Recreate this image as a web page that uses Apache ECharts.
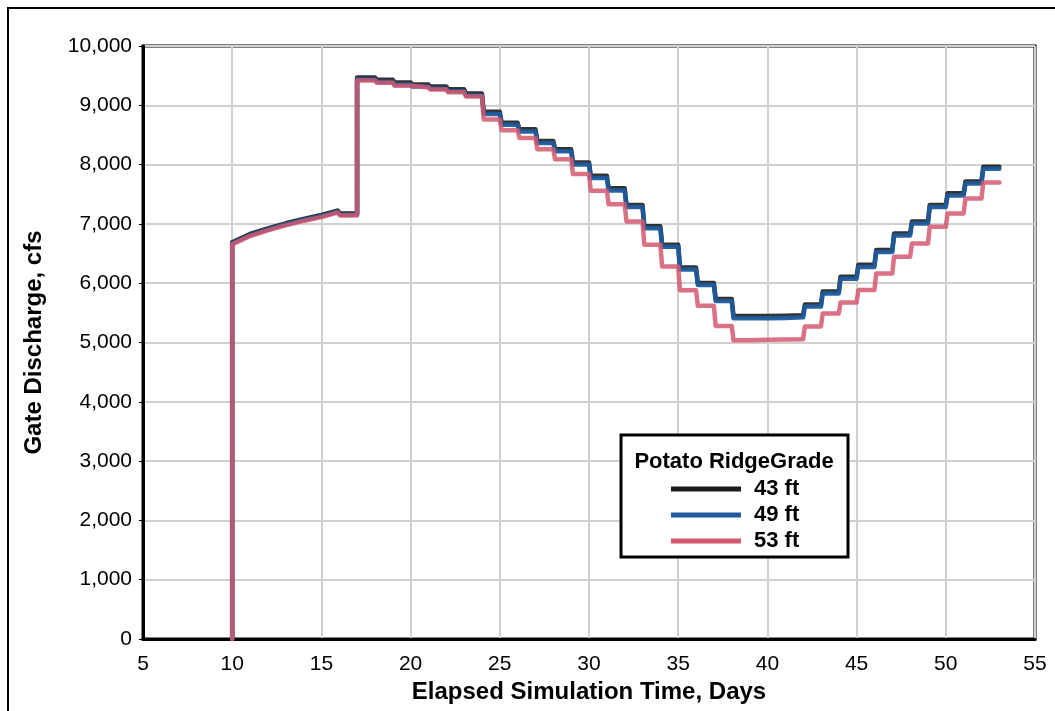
<!DOCTYPE html>
<html>
<head>
<meta charset="utf-8">
<script src="https://cdn.jsdelivr.net/npm/echarts@6/dist/echarts.min.js"></script>
<style>
  html, body { margin: 0; padding: 0; background: #fff; }
  #chart { width: 1055px; height: 711px; }
</style>
</head>
<body>
<div id="chart"></div>
<script>
// Gate discharge (cfs) vs elapsed simulation time (days) for three grade settings.

const seriesNames = ['43 ft', '49 ft', '53 ft'];
const legendTitle = 'Potato RidgeGrade';

// Opening ramp: gate opens at day 10, discharge creeps up until day 17.
const rampDays = [10, 10, 11, 12, 13, 14, 15, 15.9, 16.05];
const ramp43 = [0, 6690, 6830, 6925, 7010, 7085, 7150, 7225, 7175];
const ramp49 = [0, 6670, 6810, 6905, 6990, 7065, 7130, 7205, 7155];
const ramp53 = [0, 6655, 6795, 6890, 6975, 7050, 7115, 7190, 7140];

// Daily operating levels; each value holds from its day until the next day.
const stepDays = [17, 18, 19, 20, 21, 22, 23, 24, 25, 26, 27, 28, 29, 30, 31, 32, 33, 34,
                  35, 36, 37, 38, 39, 40, 41, 42, 43, 44, 45, 46, 47, 48, 49, 50, 51, 52];
const level43 = [9470, 9430, 9385, 9350, 9315, 9270, 9200, 8890, 8705, 8595, 8400, 8260,
                 8035, 7810, 7600, 7320, 6960, 6650, 6265, 6005, 5735, 5445, 5445, 5450,
                 5460, 5640, 5860, 6110, 6310, 6560, 6840, 7040, 7320, 7515, 7715, 7965];
const level49 = [9435, 9395, 9350, 9315, 9280, 9235, 9165, 8855, 8670, 8560, 8365, 8225,
                 8000, 7775, 7565, 7285, 6925, 6615, 6230, 5970, 5700, 5410, 5410, 5415,
                 5425, 5605, 5825, 6075, 6275, 6525, 6805, 7005, 7285, 7480, 7680, 7930];
const level53 = [9420, 9380, 9330, 9300, 9265, 9220, 9150, 8760, 8580, 8450, 8260, 8090,
                 7840, 7560, 7330, 7040, 6650, 6280, 5880, 5620, 5280, 5040, 5045, 5050,
                 5055, 5270, 5490, 5675, 5885, 6165, 6445, 6670, 6950, 7175, 7430, 7700];
const endDay = 53;

const xTicks = { min: 5, max: 55, interval: 5 };
const yTicks = { min: 0, max: 10000, interval: 1000 };

// Gate changes are not instantaneous: the new level is reached shortly after the change.
const settleTime = 0.1;

function buildPath(ramp, levels) {
  const pts = rampDays.map((d, i) => [d, ramp[i]]);
  stepDays.forEach((d, i) => {
    const prev = pts[pts.length - 1][1];
    pts.push([d, prev]);
    pts.push([d + (i === 0 ? 0 : settleTime), levels[i]]);
  });
  pts.push([endDay, levels[levels.length - 1]]);
  return pts;
}

const colors = ['#1c1c1c', '#1f5b9c', '#d4586e'];
const font = '"Liberation Sans", Arial, sans-serif';

const chart = echarts.init(document.getElementById('chart'), null, { renderer: 'canvas' });

function lineSeries(name, data, color, z, opacity) {
  return {
    name: name,
    type: 'line',
    data: data,
    showSymbol: false,
    symbol: 'none',
    z: z,
    color: color,
    lineStyle: { color: color, width: 4.5, opacity: opacity, join: 'round', cap: 'round' },
    animation: false
  };
}

chart.setOption({
  backgroundColor: '#ffffff',
  animation: false,
  grid: { left: 143, right: 20, top: 46, bottom: 72, show: true, borderColor: '#000', borderWidth: 3, backgroundColor: 'transparent' },
  xAxis: {
    type: 'value',
    min: xTicks.min, max: xTicks.max, interval: xTicks.interval,
    name: 'Elapsed Simulation Time, Days',
    nameLocation: 'middle',
    nameGap: 41,
    nameTextStyle: { fontFamily: font, fontSize: 24, fontWeight: 'bold', color: '#000' },
    axisLine: { show: true, lineStyle: { color: '#000', width: 3 } },
    axisTick: { show: false },
    axisLabel: { fontFamily: font, fontSize: 21, color: '#000', margin: 15 },
    splitLine: { show: true, lineStyle: { color: '#d0d0d0', width: 2 } }
  },
  yAxis: {
    type: 'value',
    min: yTicks.min, max: yTicks.max, interval: yTicks.interval,
    name: 'Gate Discharge, cfs',
    nameLocation: 'middle',
    nameGap: 97,
    nameTextStyle: { fontFamily: font, fontSize: 24, fontWeight: 'bold', color: '#000' },
    axisLine: { show: true, lineStyle: { color: '#000', width: 3 } },
    axisTick: { show: true, length: 4, inside: false, lineStyle: { color: '#000', width: 1 } },
    axisLabel: {
      fontFamily: font, fontSize: 21, color: '#000', margin: 11,
      formatter: v => v.toLocaleString('en-US')
    },
    splitLine: { show: true, lineStyle: { color: '#d0d0d0', width: 2 } }
  },
  legend: {
    orient: 'vertical',
    left: 671,
    top: 476,
    data: seriesNames,
    icon: 'rect',
    itemWidth: 70,
    itemHeight: 5,
    itemGap: 0,
    padding: 0,
    z: 6,
    textStyle: { fontFamily: font, fontSize: 22, fontWeight: 'bold', color: '#000', lineHeight: 26, padding: [0, 0, 0, 8] },
    selectedMode: false
  },
  graphic: [
    {
      type: 'rect', z: 5, silent: true,
      shape: { x: 8, y: 8, width: 1200, height: 900 },
      style: { fill: 'none', stroke: '#000', lineWidth: 2 }
    },
    {
      type: 'rect', z: 5, silent: true,
      shape: { x: 621, y: 435, width: 227, height: 122 },
      style: { fill: '#fff', stroke: '#000', lineWidth: 3 }
    },
    {
      type: 'text', z: 6, silent: true,
      x: 734, y: 462,
      style: { text: legendTitle, fontFamily: font, fontSize: 22, fontWeight: 'bold', fill: '#000', align: 'center', verticalAlign: 'middle' }
    }
  ],
  series: [
    lineSeries(seriesNames[0], buildPath(ramp43, level43), colors[0], 2, 0.9),
    lineSeries(seriesNames[1], buildPath(ramp49, level49), colors[1], 3, 0.95),
    lineSeries(seriesNames[2], buildPath(ramp53, level53), colors[2], 4, 0.85)
  ]
});
</script>
</body>
</html>
